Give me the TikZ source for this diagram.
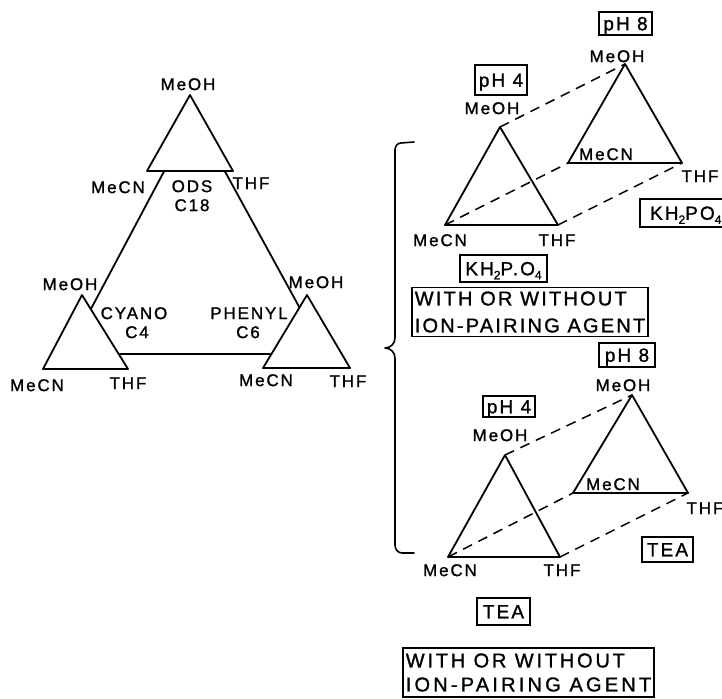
\documentclass[tikz,border=0pt]{standalone}
\usepackage{fontspec}
\setmainfont{Liberation Sans}
\newfontfamily\labfont[LetterSpace=11,FakeBold=1.2]{Liberation Sans}
\newcommand{\sbs}[1]{\raisebox{-0.4ex}{\fontsize{12}{12}\selectfont #1}}
\newcommand{\wideline}[2]{{\addfontfeature{LetterSpace=#1}#2}}
\begin{document}
\begin{tikzpicture}[x=1pt,y=-1pt,
  edge/.style={line width=1.8pt, line join=round},
  tri/.style={edge, fill=white},
  dashline/.style={line width=1.5pt, dash pattern=on 10pt off 7pt},
  lbl/.style={inner sep=0pt, font=\labfont\fontsize{17}{17}\selectfont, text height=12.2pt, text depth=0pt},
  tag/.style={draw, line width=1.5pt, inner sep=0pt, font=\labfont\fontsize{19}{19}\selectfont, text height=13.5pt, text depth=0pt},
  bigtag/.style={draw, line width=1.5pt, inner xsep=3pt, inner ysep=0pt, align=left, font=\labfont\fontsize{20}{27}\selectfont},
  bracestyle/.style={line width=1.6pt, line cap=round, line join=round}
]
\useasboundingbox (0,0) rectangle (722,698);

% ---------- left diagram ----------
\coordinate (BT) at (194,115);
\coordinate (BL) at (67,354);
\coordinate (BR) at (325,354);
\draw[edge] (BT) -- (BL) -- (BR) -- cycle;

\coordinate (Ta) at (190,95);  \coordinate (Tl) at (147,171); \coordinate (Tr) at (233,171);
\coordinate (Ca) at (82,295);  \coordinate (Cl) at (43,369);  \coordinate (Cr) at (128,369);
\coordinate (Pa) at (307,295); \coordinate (Pl) at (263,368); \coordinate (Pr) at (350,368);
\draw[tri] (Ta) -- (Tl) -- (Tr) -- cycle;
\draw[tri] (Ca) -- (Cl) -- (Cr) -- cycle;
\draw[tri] (Pa) -- (Pl) -- (Pr) -- cycle;

\node[lbl] (tMeOH) at (188,84) {MeOH};
\node[lbl] (tMeCN) at (118,187) {MeCN};
\node[lbl] (tTHF)  at (251,183) {THF};
\node[lbl] (ods)   at (192,186) {ODS};
\node[lbl] (c18)   at (192,205) {C18};
\node[lbl] (cMeOH) at (70,284) {MeOH};
\node[lbl] (cyano) at (134,313) {CYANO};
\node[lbl] (c4)    at (137,332) {C4};
\node[lbl] (cMeCN) at (37,385) {MeCN};
\node[lbl] (cTHF)  at (128,383) {THF};
\node[lbl] (pMeOH) at (316,282) {MeOH};
\node[lbl] (phenyl) at (249,313) {PHENYL};
\node[lbl] (c6)    at (248,332) {C6};
\node[lbl] (pMeCN) at (266,380) {MeCN};
\node[lbl] (pTHF)  at (348,381) {THF};

% ---------- brace ----------
\draw[bracestyle] (414,142) -- (401,143) to[out=180,in=90] (395,150) -- (395,338)
  to[out=-90,in=0] (385,348) to[out=0,in=90] (395,358) -- (395,545)
  to[out=-90,in=180] (402,553) -- (414,553);

% ---------- right top diagram (KH2PO4) ----------
\coordinate (F1a) at (500,127); \coordinate (F1l) at (445,225); \coordinate (F1r) at (558,225);
\coordinate (B1a) at (625,64);  \coordinate (B1l) at (568,163); \coordinate (B1r) at (682,163);
\draw[edge] (F1a) -- (F1l) -- (F1r) -- cycle;
\draw[edge] (B1a) -- (B1l) -- (B1r) -- cycle;
\draw[dashline] (F1a) -- (B1a);
\draw[dashline] (F1l) -- (B1l);
\draw[dashline] (F1r) -- (B1r);

\node[tag, minimum width=53pt, minimum height=23pt] (ph8a) at (625.5,23.5) {pH 8};
\node[lbl] (b1MeOH) at (617,56) {MeOH};
\node[lbl] (b1MeCN) at (606,154) {MeCN};
\node[lbl] (b1THF)  at (700,176) {THF};
\node[tag, minimum width=52pt, minimum height=30pt] (ph4a) at (501,80) {pH 4};
\node[lbl] (f1MeOH) at (492,108) {MeOH};
\node[lbl] (f1MeCN) at (440,240) {MeCN};
\node[lbl] (f1THF)  at (557,240) {THF};
\node[tag, minimum width=87pt, minimum height=27pt] (kh1) at (503.5,268.5) {KH\sbs{2}P.O\sbs{4}};
\node[tag, anchor=west, minimum width=92pt, minimum height=28pt, inner xsep=7pt] (kh2) at (639,213) {KH\sbs{2}PO\sbs{4}\hfill};
\node[bigtag, minimum width=234pt, minimum height=49pt] (with1) at (530,312)
  {\wideline{11}{WITH OR WITHOUT}\\\wideline{11}{ION-PAIRING AGENT}};

% ---------- right bottom diagram (TEA) ----------
\coordinate (F2a) at (505,455); \coordinate (F2l) at (448,557); \coordinate (F2r) at (560,557);
\coordinate (B2a) at (632,395); \coordinate (B2l) at (573,493); \coordinate (B2r) at (688,493);
\draw[edge] (F2a) -- (F2l) -- (F2r) -- cycle;
\draw[edge] (B2a) -- (B2l) -- (B2r) -- cycle;
\draw[dashline] (F2a) -- (B2a);
\draw[dashline] (F2l) -- (B2l);
\draw[dashline] (F2r) -- (B2r);

\node[tag, minimum width=56pt, minimum height=24pt] (ph8b) at (627,355) {pH 8};
\node[lbl] (b2MeOH) at (623,385) {MeOH};
\node[lbl] (b2MeCN) at (613,484) {MeCN};
\node[lbl] (b2THF)  at (705,508) {THF};
\node[tag, minimum width=52pt, minimum height=21pt] (ph4b) at (509,406.5) {pH 4};
\node[lbl] (f2MeOH) at (500,435) {MeOH};
\node[lbl] (f2MeCN) at (450,570) {MeCN};
\node[lbl] (f2THF)  at (562,570) {THF};
\node[tag, minimum width=51pt, minimum height=25pt] (tea1) at (667.5,549.5) {TEA};
\node[tag, minimum width=53pt, minimum height=27pt] (tea2) at (503.5,611.5) {TEA};
\node[bigtag, minimum width=247pt, minimum height=49pt] (with2) at (528.5,672.5)
  {\wideline{14}{WITH OR WITHOUT}\\[-3pt]\wideline{16}{ION-PAIRING AGENT}};
\end{tikzpicture}
\end{document}
